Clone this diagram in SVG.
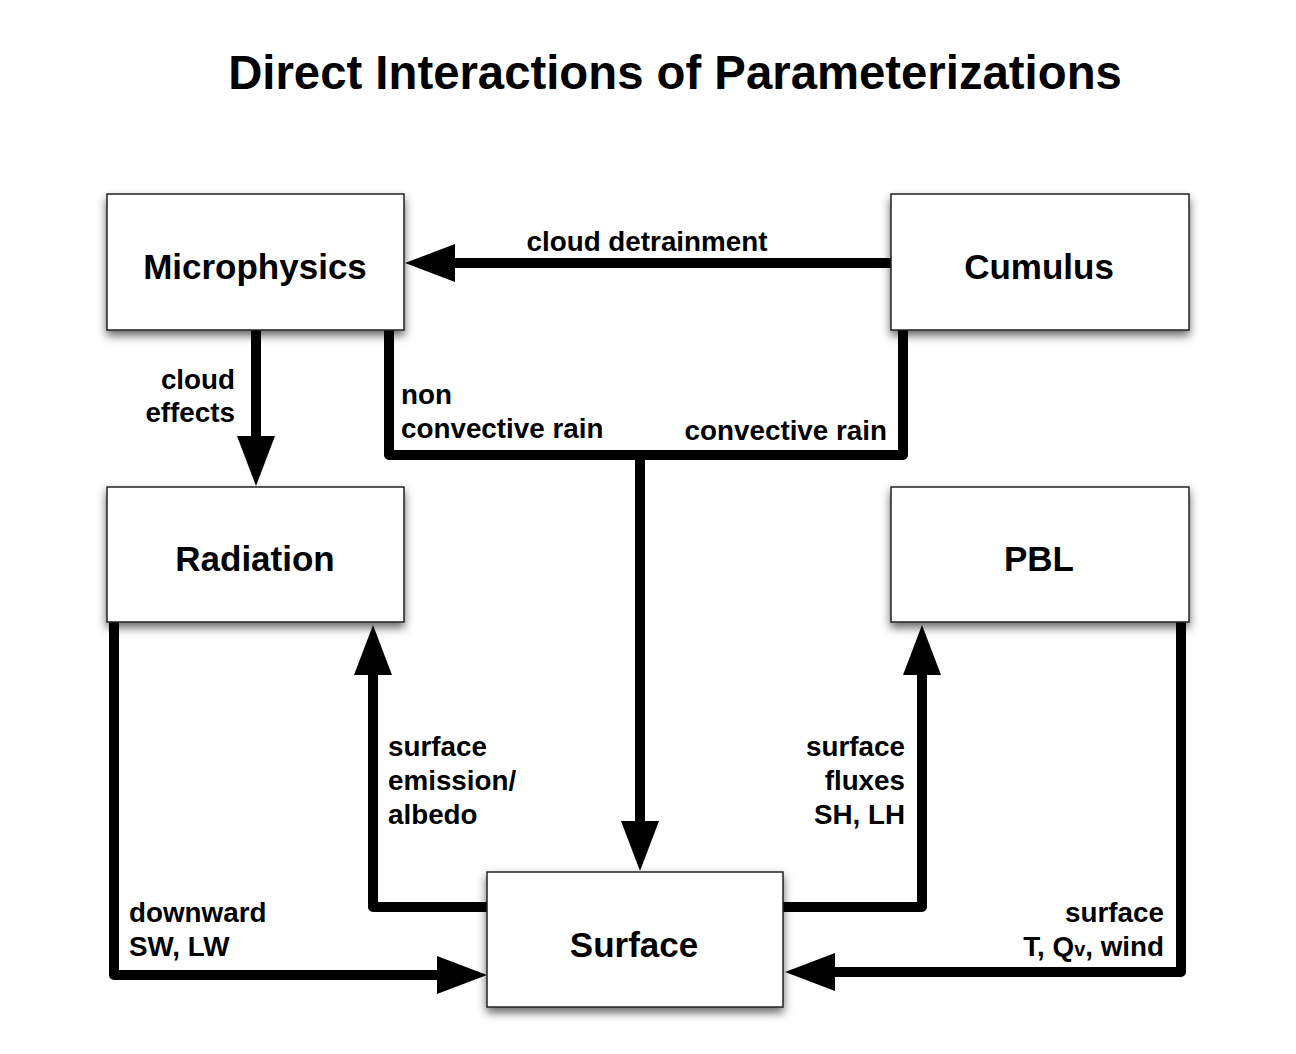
<svg xmlns="http://www.w3.org/2000/svg" width="1296" height="1054" viewBox="0 0 1296 1054">
<defs>
<filter id="sh" x="-10%" y="-10%" width="120%" height="130%">
<feDropShadow dx="0" dy="5" stdDeviation="5" flood-color="#000" flood-opacity="0.6"/>
</filter>
<marker id="ah" markerUnits="userSpaceOnUse" markerWidth="52" markerHeight="40" refX="0" refY="20" orient="auto" overflow="visible">
<path d="M0,1 L50,20 L0,39 Z" fill="#000"/>
</marker>
<style>
.box{fill:#fff;stroke:#222;stroke-width:1.5;filter:url(#sh)}
.nl{font-family:"Liberation Sans",Arial,sans-serif;font-weight:bold;font-size:35px;fill:#000;text-anchor:middle}
.lb{font-family:"Liberation Sans",Arial,sans-serif;font-weight:bold;font-size:27.8px;fill:#000}
.ln{fill:none;stroke:#000;stroke-width:10;stroke-linejoin:round}
.ttl{font-family:"Liberation Sans",Arial,sans-serif;font-weight:bold;font-size:47.3px;fill:#000;text-anchor:middle}
</style>
</defs>
<rect width="1296" height="1054" fill="#fff"/>
<text class="ttl" x="675" y="89">Direct Interactions of Parameterizations</text>

<g id="connectors">
<path class="ln" d="M891,263 H455" marker-end="url(#ah)"/>
<path class="ln" d="M256,330 V436" marker-end="url(#ah)"/>
<path class="ln" d="M389,330 V455 H903 V330"/>
<path class="ln" d="M640,455 V821" marker-end="url(#ah)"/>
<path class="ln" d="M114,622 V975 H437" marker-end="url(#ah)"/>
<path class="ln" d="M487,907 H373 V675" marker-end="url(#ah)"/>
<path class="ln" d="M783,907 H922 V675" marker-end="url(#ah)"/>
<path class="ln" d="M1181,622 V972 H835" marker-end="url(#ah)"/>
<text class="lb" x="647" y="251" text-anchor="middle">cloud detrainment</text>
<text class="lb" x="235" y="389" text-anchor="end">cloud</text>
<text class="lb" x="235" y="422" text-anchor="end">effects</text>
<text class="lb" x="401" y="404">non</text>
<text class="lb" x="401" y="438">convective rain</text>
<text class="lb" x="887" y="440" text-anchor="end">convective rain</text>
<text class="lb" x="388" y="756">surface</text>
<text class="lb" x="388" y="790">emission/</text>
<text class="lb" x="388" y="824">albedo</text>
<text class="lb" x="905" y="756" text-anchor="end">surface</text>
<text class="lb" x="905" y="790" text-anchor="end">fluxes</text>
<text class="lb" x="905" y="824" text-anchor="end">SH, LH</text>
<text class="lb" x="129" y="922">downward</text>
<text class="lb" x="129" y="956">SW, LW</text>
<text class="lb" x="1164" y="922" text-anchor="end">surface</text>
<text class="lb" x="1164" y="956" text-anchor="end">T, Q<tspan font-size="20px">v</tspan>, wind</text>
</g>

<g id="microphysics">
<rect class="box" x="107" y="194" width="297" height="136"/>
<text class="nl" x="255" y="279">Microphysics</text>
</g>
<g id="cumulus">
<rect class="box" x="891" y="194" width="298" height="136"/>
<text class="nl" x="1039" y="279">Cumulus</text>
</g>
<g id="radiation">
<rect class="box" x="107" y="487" width="297" height="135"/>
<text class="nl" x="255" y="571">Radiation</text>
</g>
<g id="pbl">
<rect class="box" x="891" y="487" width="298" height="135"/>
<text class="nl" x="1039" y="571">PBL</text>
</g>
<g id="surface">
<rect class="box" x="487" y="872" width="296" height="135"/>
<text class="nl" x="634" y="957">Surface</text>
</g>
</svg>
